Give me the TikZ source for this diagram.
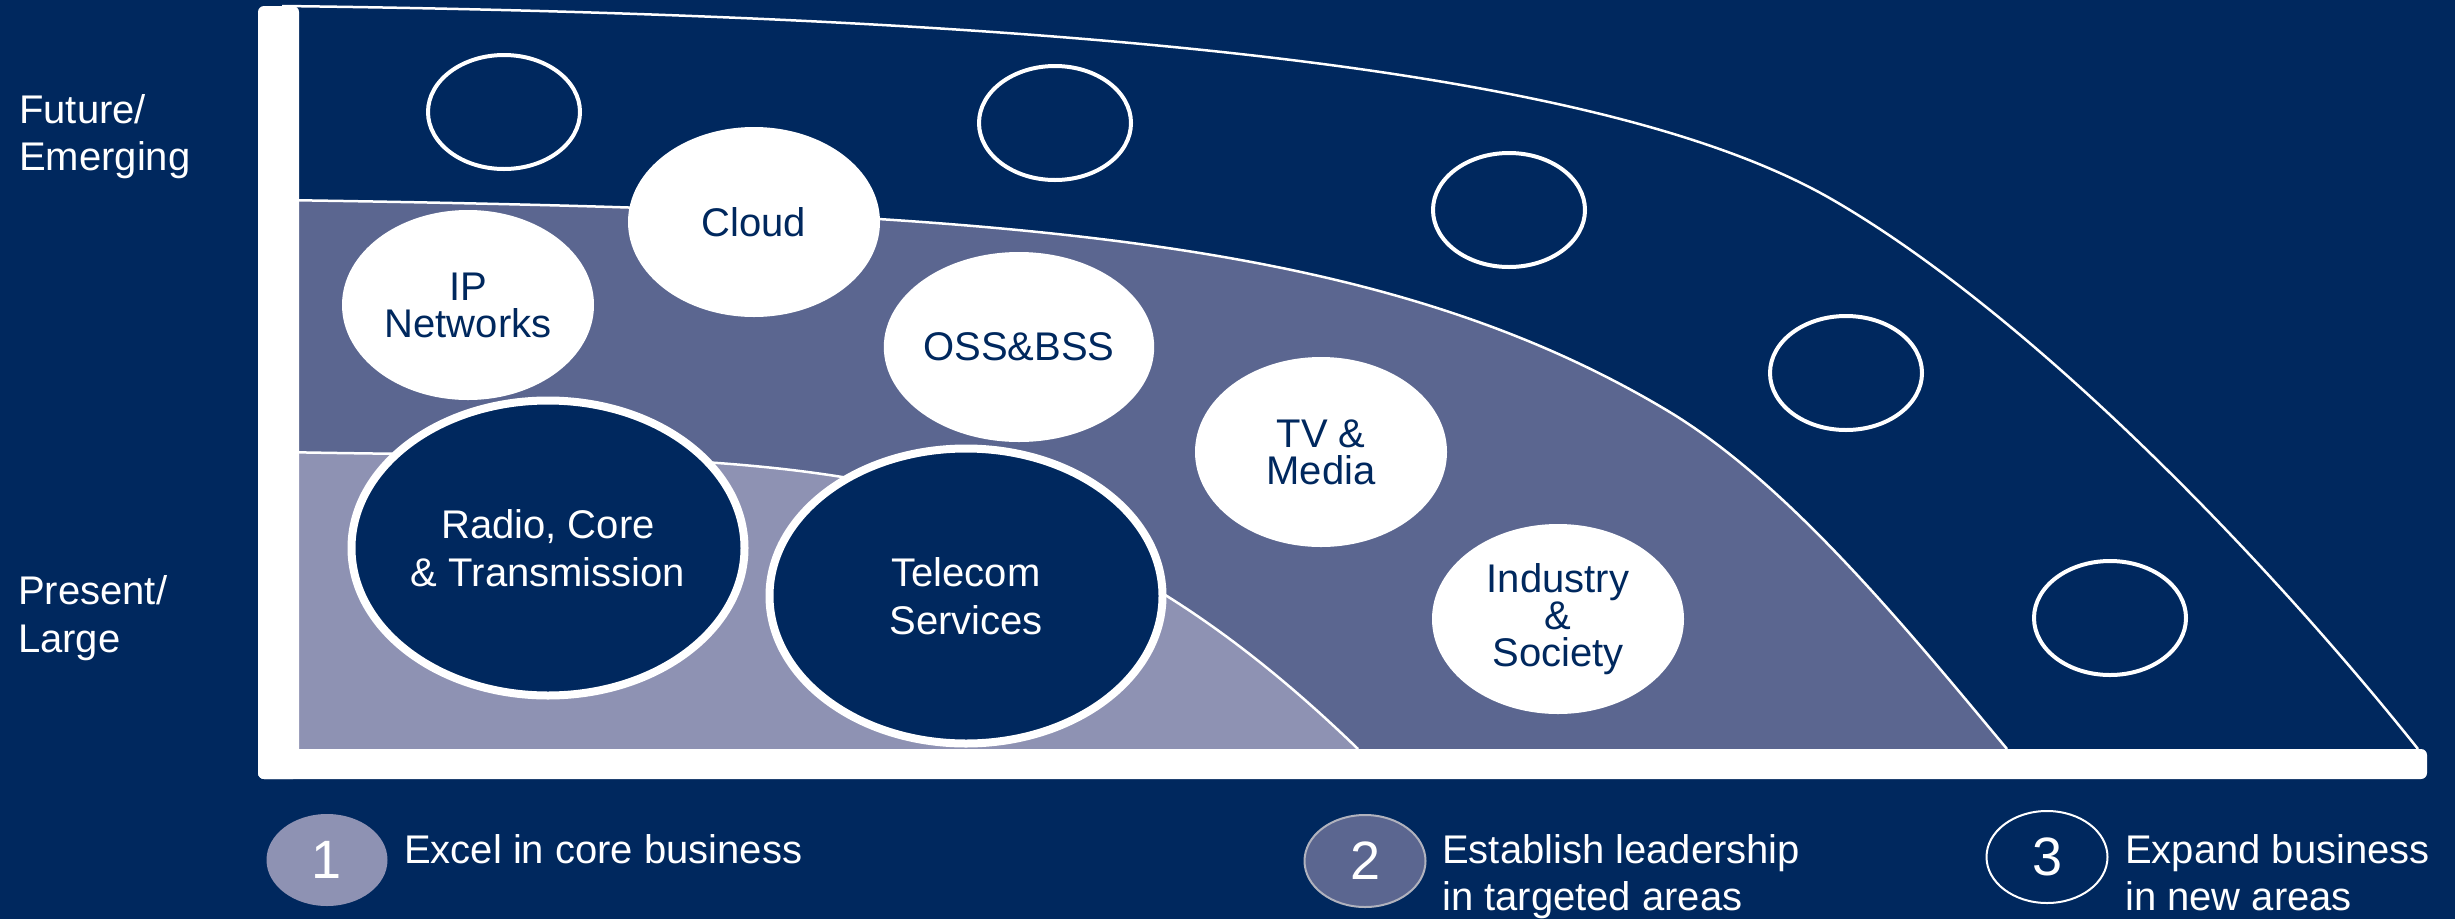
\documentclass[tikz,border=0pt]{standalone}
\usepackage{fontspec}
\setmainfont{Liberation Sans}
\usetikzlibrary{shapes.geometric}
\definecolor{navy}{RGB}{0,40,94}
\definecolor{bandmid}{RGB}{91,102,144}
\definecolor{bandlow}{RGB}{142,146,179}
\definecolor{ringgray}{RGB}{176,178,190}
\begin{document}
\begin{tikzpicture}[x=1pt,y=-1pt,
  txt/.style={font=\fontsize{40}{37}\selectfont},
  sidelabel/.style={txt, text=white, anchor=base west, inner sep=0pt},
  whiteball/.style={ellipse, fill=white, text=navy, txt, align=center,
    inner sep=0pt, minimum width=252pt, minimum height=190pt},
  darkball/.style={ellipse, fill=navy, draw=white, line width=8pt, text=white,
    font=\fontsize{40}{48}\selectfont, align=center, inner sep=0pt,
    minimum width=393pt, minimum height=295pt},
  openring/.style={ellipse, draw=white, line width=4pt, inner sep=0pt,
    minimum width=152pt, minimum height=114pt},
  bandline/.style={draw=white, line width=2.5pt},
  axisbar/.style={fill=white, rounded corners=6pt},
  keyball/.style={ellipse, inner sep=0pt, minimum width=121pt, minimum height=92pt,
    text=white, font=\fontsize{54}{54}\selectfont},
]
% canvas
\fill[navy] (0,0) rectangle (2455,919);
\useasboundingbox (0,0) rectangle (2455,919);

% curve end points
\coordinate (b3s) at (282,6);
\coordinate (b3m) at (1833,200);
\coordinate (b3e) at (2418,749);
\coordinate (b2s) at (280,200);
\coordinate (b2m) at (1668,411);
\coordinate (b2e) at (2007,749);
\coordinate (b1s) at (280,452);
\coordinate (b1e) at (1358,749);

% band 2: targeted areas
\fill[bandmid] (280,749) -- (b2s) .. controls (980,210.5) and (1368,231) .. (b2m)
  .. controls (1788,483) and (1907,629) .. (b2e) -- cycle;
% band 1: core business
\fill[bandlow] (280,749) -- (b1s) .. controls (780,462) and (1028,429) .. (b1e) -- cycle;

% band borders
\draw[bandline] (b3s) .. controls (1182,17) and (1633,84) .. (b3m)
  .. controls (2033,316) and (2268,561) .. (b3e);
\draw[bandline] (b2s) .. controls (980,210.5) and (1368,231) .. (b2m)
  .. controls (1788,483) and (1907,629) .. (b2e);
\draw[bandline] (b1s) .. controls (780,462) and (1028,429) .. (b1e);

% open slots for new areas
\node[openring] (slot1) at (504,112) {};
\node[openring] (slot2) at (1055,123) {};
\node[openring] (slot3) at (1509,210) {};
\node[openring] (slot4) at (1846,373) {};
\node[openring] (slot5) at (2110,618) {};

% targeted areas
\node[whiteball] (ip) at (468,305) {IP\\Networks};
\node[whiteball] (cloud) at (754,222) {Cloud};
\node[whiteball] (oss) at (1019,347) {OSS\&BSS};
\node[whiteball] (tv) at (1321,452) {TV \&\\Media};
\node[whiteball] (industry) at (1558,619) {Industry\\\&\\Society};

% core business
\node[darkball] (radio) at (548,548) {Radio, Core\\\& Transmission};
\node[darkball] (telecom) at (966,596) {Telecom\\Services};

% axes
\fill[axisbar] (258,6) rectangle (299,779);
\fill[axisbar] (258,749) rectangle (2427,779);

% axis labels
\node[sidelabel] (fut1) at (19,123) {Future/};
\node[sidelabel] (fut2) at (19,170) {Emerging};
\node[sidelabel] (pre1) at (18,604) {Present/};
\node[sidelabel] (pre2) at (18,652) {Large};

% key
\node[keyball, fill=bandlow] (k1) at (327,860) {1};
\node[sidelabel] (k1a) at (404,863) {Excel in core business};
\node[keyball, fill=bandmid, draw=ringgray, line width=2pt] (k2) at (1365,861) {2};
\node[sidelabel] (k2a) at (1442,863) {Establish leadership};
\node[sidelabel] (k2b) at (1442,910) {in targeted areas};
\node[keyball, fill=navy, draw=white, line width=2pt] (k3) at (2047,857) {3};
\node[sidelabel] (k3a) at (2125,863) {Expand business};
\node[sidelabel] (k3b) at (2125,910) {in new areas};
\end{tikzpicture}
\end{document}
